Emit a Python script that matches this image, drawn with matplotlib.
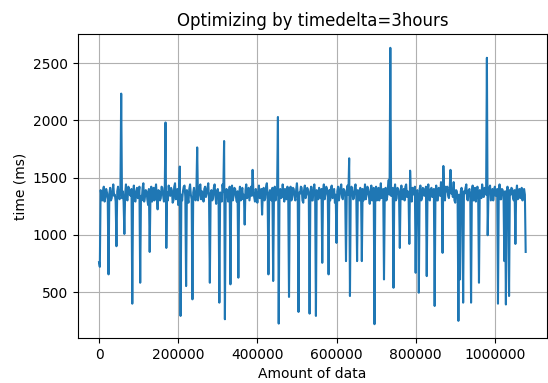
import matplotlib
matplotlib.use("Agg")
import matplotlib.pyplot as plt
import numpy as np

# x step between successive measurements (amount of data)
step = 2000

times = [
    760, 720, 1390, 1340, 1300, 1380, 1420, 1290, 1330, 1400, 1370, 1310, 654, 1360, 1410, 1300, 1320, 1390, 1440, 1340,
    1350, 1290, 900, 1380, 1420, 1330, 1310, 1400, 2233, 1320, 1380, 1290, 1007, 1360, 1440, 1310, 1300, 1420, 1400, 1350,
    1340, 1400, 398, 1350, 1430, 1300, 1290, 1380, 1410, 1320, 1360, 1420, 581, 1340, 1300, 1410, 1450, 1290, 1330, 1390,
    1380, 1310, 1260, 1400, 850, 1360, 1420, 1290, 1350, 1410, 1300, 1380, 1440, 1330, 1222, 1390, 1380, 1300, 1320, 1420,
    1410, 1340, 1290, 1380, 1981, 885, 1370, 1300, 1430, 1350, 1340, 1410, 1390, 1280, 1300, 1420, 1450, 1310, 1330, 1400,
    1260, 1380, 1596, 291, 1350, 1300, 1380, 1420, 1430, 1330, 552, 1390, 1320, 1280, 1400, 1440, 1350, 1310, 436, 1370,
    1410, 1320, 1300, 1390, 1763, 1300, 1340, 1420, 1440, 1310, 1380, 1350, 1290, 1400, 1420, 1330, 1360, 1410, 1450, 1300,
    581, 1360, 1390, 1300, 1320, 1410, 1440, 1340, 1270, 1380, 1400, 1330, 407, 1370, 1350, 1290, 1440, 1380, 1819, 262,
    1350, 1400, 1380, 1290, 1310, 1420, 567, 1360, 1430, 1300, 1340, 1410, 1400, 1330, 1290, 1380, 625, 1350, 1420, 1300,
    1360, 1410, 1310, 1350, 1089, 1390, 1440, 1320, 1370, 1410, 1300, 1360, 1420, 1340, 1567, 1380, 1330, 1290, 1400, 1350,
    1280, 1370, 1430, 1320, 1350, 1400, 1176, 1380, 1410, 1300, 1320, 1420, 1450, 1340, 654, 1360, 1390, 1310, 1300, 1410,
    596, 1350, 1420, 1300, 1360, 1410, 2029, 224, 1380, 1400, 1320, 1330, 1440, 1370, 1290, 1400, 1380, 1310, 1420, 1350,
    457, 1380, 1420, 1300, 1340, 1410, 1400, 1330, 1300, 1390, 1450, 1350, 326, 1370, 1360, 1420, 1410, 1300, 1280, 1390,
    1430, 1320, 1350, 1410, 1390, 1340, 311, 1380, 1420, 1300, 1300, 1410, 1440, 1350, 291, 1390, 1370, 1310, 1410, 1360,
    1320, 1400, 755, 1380, 1440, 1310, 1350, 1420, 1400, 1340, 654, 1390, 1300, 1410, 1430, 1320, 1370, 1400, 1280, 1350,
    929, 1380, 1420, 1300, 1350, 1410, 1440, 1330, 1310, 1400, 1390, 1340, 770, 1380, 1430, 1350, 1668, 465, 1390, 1420,
    1380, 1310, 1320, 1410, 1440, 1350, 770, 1390, 1360, 1300, 1410, 1370, 770, 1400, 1300, 1340, 1440, 1310, 1350, 1420,
    1400, 1330, 1270, 1380, 1430, 1300, 1340, 1410, 219, 1370, 1420, 1300, 1380, 1410, 1300, 1350, 1450, 1320, 1360, 1400,
    610, 1370, 1410, 1300, 1330, 1420, 1480, 1350, 2633, 1340, 1390, 1410, 537, 1380, 1440, 1300, 1320, 1410, 1400, 1350,
    885, 1380, 1430, 1310, 1350, 1400, 1300, 1420, 1440, 1330, 1380, 1360, 920, 1560, 1340, 1290, 1410, 1370, 1350, 1420,
    668, 1360, 1390, 1310, 494, 1400, 1430, 1300, 1320, 1410, 1400, 1340, 1360, 1420, 639, 1380, 1440, 1310, 1300, 1400,
    1410, 1330, 1350, 1400, 378, 1370, 1430, 1300, 1300, 1410, 1390, 1340, 1460, 1380, 842, 1601, 1350, 1300, 1420, 1380,
    1420, 1340, 1320, 1400, 1567, 1360, 1400, 1330, 1460, 1300, 1280, 1390, 1380, 1320, 248, 1350, 610, 1380, 1410, 1340,
    407, 1380, 1360, 1410, 1440, 1310, 1300, 1390, 1400, 1340, 407, 1370, 1430, 1300, 1350, 1410, 1290, 1360, 1420, 1330,
    581, 1390, 1380, 1320, 1440, 1370, 1330, 1410, 1400, 1350, 2546, 996, 1380, 1410, 1430, 1300, 1350, 1400, 1300, 1370,
    1420, 1340, 1360, 1400, 398, 1380, 1440, 1310, 1310, 1400, 1390, 1350, 770, 1380, 391, 1360, 1420, 1330, 465, 1390,
    1350, 1410, 1400, 1320, 1300, 1390, 920, 1370, 1430, 1310, 1360, 1400, 1320, 1350, 1410, 1300, 1380, 1400, 1350, 850,
]
amount = np.arange(len(times)) * step

fig = plt.figure(figsize=(5.48, 3.83), dpi=100)
ax = fig.add_axes([0.1418, 0.1175, 0.8564, 0.7937])
ax.plot(amount, times, color="tab:blue")
ax.set_title("Optimizing by timedelta=3hours")
ax.set_xlabel("Amount of data")
ax.set_ylabel("time (ms)")
ax.ticklabel_format(axis="x", style="plain", useOffset=False)
ax.set_yticks([500, 1000, 1500, 2000, 2500])
ax.grid(True)
fig.savefig("out.png", dpi=100)
